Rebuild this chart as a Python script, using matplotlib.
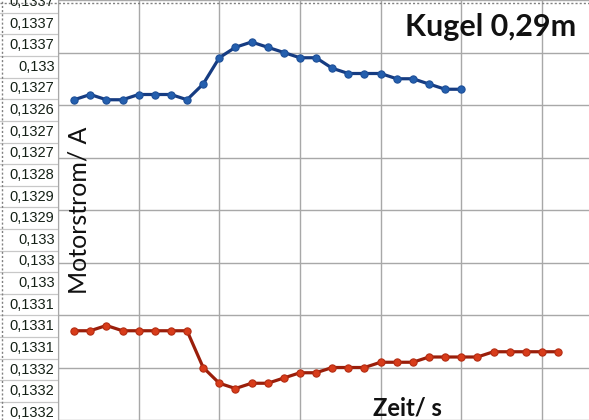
import numpy as np
import matplotlib
matplotlib.use("Agg")
import matplotlib.pyplot as plt
from matplotlib.lines import Line2D

# Werte
zeit_blau = list(range(1, 26))
strom_blau = [0.13305, 0.13310, 0.13305, 0.13305, 0.13310, 0.13310, 0.13310, 0.13305,
              0.13320, 0.13345, 0.13355, 0.13360, 0.13355, 0.13350, 0.13345, 0.13345,
              0.13335, 0.13330, 0.13330, 0.13330, 0.13325, 0.13325, 0.13320, 0.13315,
              0.13315]

zeit_rot = list(range(1, 32))
strom_rot = [0.13085, 0.13085, 0.13090, 0.13085, 0.13085, 0.13085, 0.13085, 0.13085,
             0.13050, 0.13035, 0.13030, 0.13035, 0.13035, 0.13040, 0.13045, 0.13045,
             0.13050, 0.13050, 0.13050, 0.13055, 0.13055, 0.13055, 0.13060, 0.13060,
             0.13060, 0.13060, 0.13065, 0.13065, 0.13065, 0.13065, 0.13065]

# Tabellenspalte links (Excel-Zellen)
zellen = ["0,1337", "0,1337", "0,1337", "0,133", "0,1327", "0,1326", "0,1327",
          "0,1327", "0,1328", "0,1329", "0,1329", "0,133", "0,133", "0,133",
          "0,1331", "0,1331", "0,1331", "0,1332", "0,1332", "0,1332"]

W, H = 589, 420
fig = plt.figure(figsize=(W / 100, H / 100), dpi=100)
fig.patch.set_facecolor("white")

# --- Zellspalte ---
x_col = 58
ax_c = fig.add_axes([0, 0, x_col / W, 1])
row_h = 21.62
ax_c.set_xlim(0, 1)
ax_c.set_ylim((H - 2) / row_h, -2 / row_h)
ax_c.axis("off")
for i, txt in enumerate(zellen):
    ax_c.text(0.94, i, txt, ha="right", va="center", fontsize=10.5,
              family="Liberation Sans", color="#142016")
    ax_c.axhline(i + 0.5, color="#c8c8c8", lw=0.9)

# --- Diagramm ---
ax = fig.add_axes([x_col / W, 0, (W - x_col) / W, 1])
px_x = 16.13
px_y = 53.83 / 0.0005
ax.set_xlim(0, (W - x_col) / px_x)
y0 = 0.13 + (425.8 - H) / px_y
ax.set_ylim(y0, y0 + H / px_y)
ax.set_xticks(np.arange(0, 35, 5))
ax.set_yticks(np.arange(0.1300, 0.1340, 0.0005))
ax.grid(True, color="#a8a8a8", lw=1.0)
ax.tick_params(length=0, labelleft=False, labelbottom=False)
for s in ["top", "right", "bottom"]:
    ax.spines[s].set_visible(False)
ax.spines["left"].set_color("#a8a8a8")
ax.patch.set_alpha(0)

ax.plot(zeit_blau, strom_blau, color="#163c82", lw=2.3, marker="o", ms=5.2,
        mfc="#245fae", mec="#1d4f98", mew=0.8, zorder=3)
ax.plot(zeit_rot, strom_rot, color="#9a1e0a", lw=2.3, marker="o", ms=5.2,
        mfc="#d83c1a", mec="#b42c12", mew=0.8, zorder=3)

fig.text(491 / W, 1 - 27 / H, "Kugel 0,29m", ha="center", va="center",
         fontsize=22, fontweight="bold", family="Lato", color="#111111")
fig.text(79 / W, 1 - 210 / H, "Motorstrom/ A", ha="center", va="center",
         rotation=90, fontsize=18, family="Lato", color="#111111")
fig.text(407 / W, 1 - 408 / H, "Zeit/ s", ha="center", va="center",
         fontsize=17, fontweight="bold", family="Lato", color="#111111")

# gestrichelter Rahmen (Auswahl)
fig.add_artist(Line2D([0, 1], [1 - 3 / H, 1 - 3 / H], transform=fig.transFigure,
                      color="#808080", lw=1.0, ls=(0, (1.5, 1.5))))
fig.add_artist(Line2D([1.5 / W, 1.5 / W], [0, 1], transform=fig.transFigure,
                      color="#808080", lw=1.0, ls=(0, (1.5, 1.5))))

fig.savefig("out.png", dpi=100)
